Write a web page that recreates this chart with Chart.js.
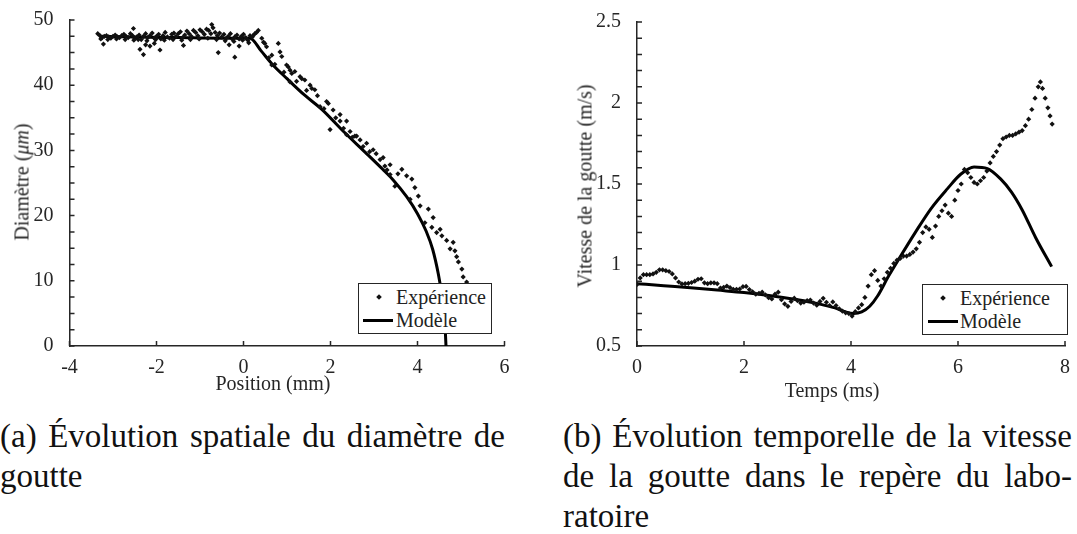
<!DOCTYPE html>
<html lang="fr">
<head>
<meta charset="utf-8">
<title>Évolution du diamètre et de la vitesse de la goutte</title>
<script src="https://cdn.jsdelivr.net/npm/chart.js@4.4.1/dist/chart.umd.min.js"></script>
<style>
  html, body { margin: 0; padding: 0; background: #fff; }
  body {
    width: 1077px; height: 534px; position: relative; overflow: hidden;
    font-family: "Liberation Serif", serif; color: #222;
  }
  .panel { position: absolute; top: 0; height: 400px; }
  #panel-a { left: 0; width: 540px; }
  #panel-b { left: 540px; width: 537px; }
  .axis-title {
    position: absolute; font-size: 20px; white-space: nowrap; color: #262626;
    transform: translate(-50%, -50%);
  }
  .axis-title.vertical { transform: translate(-50%, -50%) rotate(-90deg); }
  .legend {
    position: absolute; height: 51px; box-sizing: border-box;
    border: 1.5px solid #262626; background: #fff; font-size: 20px; color: #222;
  }
  .legend .label { position: absolute; left: 37px; line-height: 20px; white-space: nowrap; }
  .legend .dot {
    position: absolute; width: 4px; height: 4px; background: #111;
    transform: translate(-50%, -50%) rotate(45deg);
  }
  .legend .line { position: absolute; height: 3px; background: #000; }
  .caption {
    position: absolute; font-family: "Liberation Serif", serif; font-size: 33px;
    line-height: 40px; white-space: nowrap; color: #111;
  }
  .caption.full { text-align: justify; text-align-last: justify; white-space: normal; }
</style>
</head>
<body>

<div class="panel" id="panel-a"><canvas id="chart-diametre"></canvas></div>
<div class="panel" id="panel-b"><canvas id="chart-vitesse"></canvas></div>

<!-- axis titles -->
<div class="axis-title vertical" style="left:22px; top:182px;">Diamètre (<i>μm</i>)</div>
<div class="axis-title" style="left:273px; top:383px;">Position (mm)</div>
<div class="axis-title vertical" style="left:585px; top:186px;">Vitesse de la goutte (m/s)</div>
<div class="axis-title" style="left:832px; top:390px;">Temps (ms)</div>

<!-- legends -->
<div class="legend" style="left:358px; top:283px; width:134px;">
  <span class="dot" style="left:20px; top:13px;"></span>
  <span class="label" style="top:3px;">Expérience</span>
  <span class="line" style="left:4px; width:30px; top:35px;"></span>
  <span class="label" style="top:26px;">Modèle</span>
</div>
<div class="legend" style="left:922px; top:284px; width:146px;">
  <span class="dot" style="left:20px; top:13px;"></span>
  <span class="label" style="left:37px; top:3px;">Expérience</span>
  <span class="line" style="left:5px; width:30px; top:35px;"></span>
  <span class="label" style="left:37px; top:26px;">Modèle</span>
</div>

<!-- captions -->
<div class="caption full" style="left:0; top:416px; width:505px;">(a) Évolution spatiale du diamètre de</div>
<div class="caption" style="left:0; top:456px;">goutte</div>
<div class="caption full" style="left:563px; top:416px; width:509px;">(b) Évolution temporelle de la vitesse</div>
<div class="caption full" style="left:563px; top:456px; width:509px;">de la goutte dans le repère du labo-</div>
<div class="caption" style="left:563px; top:496px;">ratoire</div>

<script>
// ===== DATA =====

// (a) diamètre (µm) en fonction de la position (mm) - points expérimentaux
const diamExpX = [
  -3.35, -3.30, -3.25, -3.20, -3.15, -3.10, -3.05, -3.00, -2.95, -2.90, -2.85, -2.80, -2.75, -2.70, -2.65,
  -2.60, -2.55, -2.50, -2.45, -2.40, -2.35, -2.30, -2.25, -2.20, -2.15, -2.10, -2.05, -2.00, -1.95, -1.90,
  -1.85, -1.80, -1.75, -1.70, -1.65, -1.60, -1.55, -1.50, -1.45, -1.40, -1.35, -1.30, -1.25, -1.20, -1.15,
  -1.10, -1.05, -1.00, -0.95, -0.90, -0.85, -0.80, -0.75, -0.70, -0.65, -0.60, -0.55, -0.50, -0.45, -0.40,
  -0.35, -0.30, -0.25, -0.20, -0.15, -0.10, -0.05, 0.00, 0.05, 0.10, 0.15, 0.20,
  -3.28, -3.12, -2.92, -2.72, -2.52, -2.42, -2.22, -2.02, -1.82, -1.62, -1.42, -1.22, -1.02, -0.82, -0.62,
  -0.42, -0.22, -0.02, 0.12,
  -3.22, -2.53, -2.38, -2.30, -2.15, -1.92, -1.38, -0.73, -0.58, -0.20, -2.25, -2.05, -0.33, -0.10,
  0.22, 0.26, 0.30, 0.34,
  0.42, 0.46, 0.49, 0.53, 0.58, 0.65, 0.65, 0.72, 0.80, 0.84, 0.88, 0.93, 0.99, 1.03, 1.07, 1.07, 1.11,
  1.18, 1.22, 1.30, 1.34, 1.41, 1.45, 1.53, 1.57, 1.64, 1.70, 1.76, 1.85, 1.91, 1.95, 1.99, 2.06, 2.12,
  2.22, 2.22, 2.30, 2.37, 2.37, 2.45, 2.50, 2.56, 2.60, 2.68, 2.75, 2.83, 2.90, 2.98, 3.05, 3.14, 3.21,
  3.25, 3.30, 3.37, 3.37, 3.48, 3.55, 3.64, 3.75, 3.83, 3.87, 3.94, 4.02, 4.06, 4.17, 4.25, 4.33, 4.36,
  4.44, 4.52, 4.56, 4.67, 4.75, 4.82, 4.86, 4.90, 4.94, 5.02, 5.05, 5.13
];
const diamExpY = [
  47.9, 47.6, 47.3, 47.5, 47.6, 47.4, 47.2, 47.5, 47.7, 47.4, 47.3, 47.6, 47.8, 47.5, 47.3,
  47.9, 47.6, 47.2, 47.4, 47.7, 47.0, 47.5, 47.9, 47.3, 47.6, 48.0, 47.2, 47.5, 47.8, 47.1,
  47.6, 48.1, 47.4, 47.2, 47.8, 48.0, 47.5, 47.9, 48.2, 47.3, 47.7, 48.3, 47.9, 47.5, 48.4,
  48.1, 47.6, 48.5, 48.2, 47.8, 48.6, 48.4, 47.9, 48.8, 48.1, 47.6, 48.0, 47.4, 47.8, 47.2,
  47.5, 47.9, 47.0, 47.4, 47.7, 47.1, 47.5, 47.8, 47.3, 46.9, 47.6, 47.4,
  47.1, 47.0, 47.1, 47.0, 46.9, 47.0, 46.8, 47.0, 46.9, 47.0, 46.9, 47.0, 47.1, 47.2, 47.0,
  46.8, 46.7, 46.9, 46.5,
  46.3, 48.7, 45.5, 44.7, 46.0, 45.4, 46.1, 49.3, 45.0, 44.3, 46.2, 46.4, 46.2, 46.0,
  47.6, 47.9, 48.1, 48.4,
  47.2, 46.6, 46.4, 45.9, 44.2, 44.6, 43.1, 43.2, 46.4, 45.1, 44.4, 42.0, 43.1, 42.8, 42.3, 40.5, 41.8,
  42.1, 40.6, 41.3, 41.0, 40.8, 39.2, 40.0, 39.5, 39.3, 38.4, 36.7, 36.4, 37.5, 37.2, 33.2, 36.2, 35.0,
  35.5, 34.5, 33.4, 34.5, 32.4, 32.9, 32.0, 32.2, 32.2, 31.6, 30.6, 31.1, 29.8, 30.1, 29.5, 28.6, 28.9,
  27.6, 27.0, 27.8, 26.3, 24.5, 26.4, 27.1, 26.1, 22.5, 25.6, 24.3, 23.0, 21.5, 18.9, 21.0, 18.2, 19.7,
  17.4, 17.9, 16.9, 16.2, 14.9, 15.9, 14.6, 13.7, 12.9, 11.8, 10.6, 9.8
];

// (a) modèle
const diamModX = [-3.3, -2.5, -1.5, -0.5, 0.15, 0.4, 0.65, 1.0, 1.4, 1.8, 2.3, 2.8, 3.2, 3.45, 3.75, 4.0, 4.2, 4.35, 4.48, 4.56, 4.62, 4.64, 4.655];
const diamModY = [47.5, 47.4, 47.3, 47.2, 47.2, 45.3, 43.3, 41.0, 38.5, 36.3, 32.9, 29.7, 27.1, 25.4, 22.9, 20.3, 17.6, 14.8, 11.0, 7.8, 4.6, 2.2, 0];

// (b) vitesse (m/s) en fonction du temps (ms) - points expérimentaux
const vitExpT = [
  0.00, 0.06, 0.12, 0.18, 0.24, 0.30, 0.36, 0.42, 0.48, 0.54, 0.60, 0.66, 0.72, 0.78, 0.84, 0.90, 0.96,
  1.02, 1.08, 1.14, 1.20, 1.26, 1.32, 1.38, 1.44, 1.50, 1.56, 1.62, 1.68, 1.74, 1.80, 1.86, 1.92, 1.98,
  2.04, 2.10, 2.16, 2.22, 2.28, 2.34, 2.40, 2.46, 2.52, 2.58, 2.64, 2.70, 2.76, 2.82, 2.88, 2.94, 3.00,
  3.06, 3.12, 3.18, 3.24, 3.30, 3.36, 3.42, 3.48, 3.54, 3.60, 3.66, 3.72, 3.78, 3.84, 3.90, 3.96, 4.02,
  4.08, 4.14, 4.20, 4.26, 4.32, 4.38, 4.44, 4.50, 4.56, 4.62, 4.68, 4.74, 4.80, 4.86, 4.92, 4.98, 5.04,
  5.10, 5.16, 5.22, 5.28, 5.34, 5.40, 5.46, 5.52, 5.58, 5.64, 5.70, 5.76, 5.82, 5.88, 5.94, 6.00, 6.06,
  6.12, 6.18, 6.24, 6.30, 6.36, 6.42, 6.48, 6.54, 6.60, 6.66, 6.72, 6.78, 6.84, 6.90, 6.96, 7.02, 7.08,
  7.14, 7.20, 7.26, 7.32, 7.38, 7.44, 7.50, 7.54, 7.58, 7.63, 7.68, 7.72, 7.76
];
const vitExpV = [
  0.88, 0.92, 0.94, 0.94, 0.94, 0.945, 0.955, 0.97, 0.97, 0.965, 0.96, 0.945, 0.92, 0.895, 0.883, 0.885, 0.887,
  0.892, 0.90, 0.912, 0.915, 0.89, 0.885, 0.89, 0.89, 0.885, 0.858, 0.862, 0.87, 0.86, 0.85, 0.85, 0.852, 0.866,
  0.868, 0.848, 0.835, 0.82, 0.825, 0.832, 0.815, 0.798, 0.79, 0.82, 0.832, 0.786, 0.76, 0.745, 0.775, 0.795, 0.78,
  0.765, 0.77, 0.78, 0.784, 0.765, 0.752, 0.775, 0.794, 0.77, 0.75, 0.772, 0.75, 0.73, 0.715, 0.705, 0.70, 0.685,
  0.712, 0.735, 0.755, 0.80, 0.87, 0.94, 0.965, 0.905, 0.87, 0.915, 0.955, 0.98, 1.01, 1.03, 1.04, 1.055, 1.055,
  1.065, 1.08, 1.10, 1.14, 1.20, 1.235, 1.22, 1.17, 1.24, 1.30, 1.335, 1.37, 1.32, 1.30, 1.40, 1.46, 1.50,
  1.59, 1.57, 1.54, 1.51, 1.50, 1.52, 1.54, 1.58, 1.63, 1.67, 1.70, 1.74, 1.78, 1.79, 1.80, 1.80, 1.81,
  1.82, 1.83, 1.86, 1.90, 1.96, 2.03, 2.10, 2.13, 2.09, 2.03, 1.97, 1.92, 1.87
];

// (b) modèle
const vitModT = [0, 0.5, 1, 1.5, 2, 2.5, 3, 3.4, 3.7, 3.9, 4.05, 4.2, 4.35, 4.5, 4.7, 4.9, 5.2, 5.5, 5.8, 6.05, 6.3, 6.55, 6.8, 7.0, 7.2, 7.45, 7.75];
const vitModV = [0.885, 0.872, 0.86, 0.845, 0.83, 0.81, 0.785, 0.76, 0.735, 0.71, 0.70, 0.71, 0.745, 0.81, 0.93, 1.04, 1.2, 1.35, 1.47, 1.56, 1.605, 1.595, 1.53, 1.45, 1.34, 1.17, 0.99];

// ===== HELPERS =====

const AXIS_COLOR = '#262626';
const TICK_FONT = { family: '"Liberation Serif", serif', size: 20 };

function toPoints(xs, ys) {
  return xs.map((x, i) => ({ x: x, y: ys[i] }));
}

function trimNumber(v) {
  return String(Number(v.toFixed(2)));
}

// inward tick marks along both axes (major + minor)
const innerTicks = {
  id: 'innerTicks',
  afterDraw(chart, args, opts) {
    const { ctx, chartArea, scales } = chart;
    const len = opts.length;
    ctx.save();
    ctx.strokeStyle = AXIS_COLOR;
    ctx.lineWidth = 1.5;
    ctx.beginPath();
    const nx = Math.round((scales.x.max - scales.x.min) / opts.xStep);
    for (let i = 0; i <= nx; i++) {
      const px = scales.x.getPixelForValue(scales.x.min + i * opts.xStep);
      ctx.moveTo(px, chartArea.bottom);
      ctx.lineTo(px, chartArea.bottom - len);
    }
    const ny = Math.round((scales.y.max - scales.y.min) / opts.yStep);
    for (let i = 0; i <= ny; i++) {
      const py = scales.y.getPixelForValue(scales.y.min + i * opts.yStep);
      ctx.moveTo(chartArea.left, py);
      ctx.lineTo(chartArea.left + len, py);
    }
    ctx.stroke();
    ctx.restore();
  }
};

function axis(min, max, step, fit) {
  return {
    type: 'linear',
    min: min,
    max: max,
    grid: { display: false },
    border: { display: true, color: AXIS_COLOR, width: 1.5 },
    ticks: {
      stepSize: step,
      color: AXIS_COLOR,
      font: TICK_FONT,
      padding: fit.padding,
      callback: v => trimNumber(v)
    },
    afterFit: fit.apply
  };
}

function makeChart(canvasId, cfg) {
  return new Chart(document.getElementById(canvasId), {
    type: 'scatter',
    data: {
      datasets: [
        {
          label: 'Expérience',
          data: cfg.exp,
          pointStyle: 'rectRot',
          pointRadius: 2.6,
          pointBackgroundColor: '#111',
          pointBorderWidth: 0,
          showLine: false
        },
        {
          label: 'Modèle',
          data: cfg.model,
          showLine: true,
          borderColor: '#000',
          borderWidth: 3,
          pointRadius: 0,
          cubicInterpolationMode: 'monotone'
        }
      ]
    },
    options: {
      responsive: true,
      maintainAspectRatio: false,
      animation: false,
      layout: { padding: cfg.padding },
      plugins: {
        legend: { display: false },
        tooltip: { enabled: false },
        innerTicks: { xStep: cfg.xTickStep, yStep: cfg.yTickStep, length: 5 }
      },
      scales: {
        x: axis(cfg.xMin, cfg.xMax, cfg.xStep, { padding: 2, apply: s => { s.height = 54; } }),
        y: axis(cfg.yMin, cfg.yMax, cfg.yStep, { padding: 8, apply: s => { s.width = cfg.yWidth; } })
      }
    },
    plugins: [innerTicks]
  });
}

// ===== CHARTS =====

makeChart('chart-diametre', {
  exp: toPoints(diamExpX, diamExpY),
  model: toPoints(diamModX, diamModY),
  xMin: -4, xMax: 6, xStep: 2, xTickStep: 2,
  yMin: 0, yMax: 50, yStep: 10, yTickStep: 2.5,
  yWidth: 69.5,
  padding: { top: 18, right: 35.5, bottom: 0, left: 0 }
});

makeChart('chart-vitesse', {
  exp: toPoints(vitExpT, vitExpV),
  model: toPoints(vitModT, vitModV),
  xMin: 0, xMax: 8, xStep: 2, xTickStep: 2,
  yMin: 0.5, yMax: 2.5, yStep: 0.5, yTickStep: 0.1,
  yWidth: 97,
  padding: { top: 22, right: 12, bottom: 0, left: 0 }
});
</script>
</body>
</html>
